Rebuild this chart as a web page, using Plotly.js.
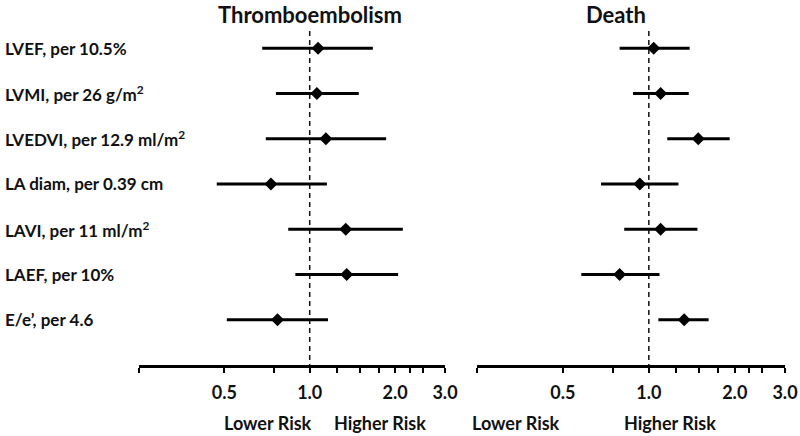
<!DOCTYPE html>
<html>
<head>
<meta charset="utf-8">
<script src="https://cdn.plot.ly/plotly-3.0.1.min.js"></script>
<style>html,body{margin:0;padding:0;background:#fff;}#chart{width:800px;height:436px;}</style>
</head>
<body>
<div id="chart"></div>
<script>
const categories = ['LVEF, per 10.5%', 'LVMI, per 26 g/m<sup>2</sup>', 'LVEDVI, per 12.9 ml/m<sup>2</sup>', 'LA diam, per 0.39 cm', 'LAVI, per 11 ml/m<sup>2</sup>', 'LAEF, per 10%', 'E/e\u2019, per 4.6'];
const panelTitles = ['Thromboembolism', 'Death'];
const thromboHR = [1.07, 1.06, 1.14, 0.73, 1.34, 1.35, 0.77];
const thromboLo = [0.68, 0.76, 0.70, 0.47, 0.84, 0.89, 0.51];
const thromboHi = [1.67, 1.49, 1.86, 1.15, 2.13, 2.05, 1.16];
const deathHR = [1.04, 1.10, 1.49, 0.93, 1.10, 0.79, 1.33];
const deathLo = [0.79, 0.88, 1.16, 0.68, 0.82, 0.58, 1.08];
const deathHi = [1.39, 1.38, 1.92, 1.27, 1.48, 1.09, 1.62];
const tickVals = [0.25, 0.5, 0.75, 1, 1.25, 1.5, 1.75, 2, 2.25, 2.5, 3];
const tickText = ['', '0.5', '', '1.0', '', '', '', '2.0', '', '', '3.0'];
const riskLabels = ['Lower Risk', 'Higher Risk'];

const FONT = 'Lato, "Open Sans", sans-serif';
const rows = categories.map((_, i) => i + 1);
const yTop = 0.62, yBot = 8;

function panel(hr, lo, hi, xa) {
  return [
    {x: [1, 1], y: [yTop, yBot], xaxis: xa, yaxis: 'y', mode: 'lines',
     line: {color: '#111', width: 1.5, dash: '5px,4px'}, hoverinfo: 'skip'},
    {x: hr, y: rows, xaxis: xa, yaxis: 'y', mode: 'markers', type: 'scatter',
     marker: {symbol: 'diamond', size: 10, color: '#000'},
     error_x: {type: 'data', symmetric: false,
       array: hi.map((h, i) => h - hr[i]), arrayminus: lo.map((l, i) => hr[i] - l),
       width: 0, thickness: 3, color: '#000'}}
  ];
}

const data = [...panel(thromboHR, thromboLo, thromboHi, 'x'), ...panel(deathHR, deathLo, deathHi, 'x2')];

function xax(domain) {
  return {
    domain: domain, type: 'log', range: [Math.log10(0.25), Math.log10(3)],
    showline: true, linecolor: '#000', linewidth: 2.5, mirror: false,
    showgrid: false, zeroline: false, anchor: 'y',
    ticks: 'outside', ticklen: 5, tickwidth: 2, tickcolor: '#000',
    tickmode: 'array', tickvals: tickVals, ticktext: tickText,
    ticklabelstandoff: 5,
    tickfont: {family: FONT, size: 18, color: '#111', weight: 700},
    fixedrange: true
  };
}

const annotations = [];
categories.forEach((c, i) => {
  annotations.push({text: c, xref: 'paper', yref: 'y', x: 0.004, y: rows[i],
    xanchor: 'left', yanchor: 'middle', showarrow: false,
    font: {family: FONT, size: 17, color: '#111', weight: 700}});
});
const titleX = [310 / 800, 648 / 800];
panelTitles.forEach((t, i) => {
  annotations.push({text: t, xref: 'paper', yref: 'paper', x: titleX[i], y: 1, yanchor: 'middle',
    yshift: 17, showarrow: false, font: {family: FONT, size: 22, color: '#111', weight: 700}});
});
const riskX = [[222 / 800, 380 / 800], [562 / 800, 718 / 800]];
riskX.forEach(pair => {
  pair.forEach((px, j) => {
    annotations.push({text: riskLabels[j], xref: 'paper', yref: 'paper', x: px, y: 0,
      yshift: -58, yanchor: 'middle', showarrow: false,
      font: {family: FONT, size: 18, color: '#111', weight: 700}});
  });
});

const layout = {
  width: 800, height: 436,
  margin: {l: 0, r: 0, t: 31, b: 71},
  paper_bgcolor: '#fff', plot_bgcolor: '#fff',
  showlegend: false, hovermode: false,
  xaxis: xax([139 / 800, 445 / 800]),
  xaxis2: xax([477 / 800, 785 / 800]),
  yaxis: {range: [yBot, yTop], visible: false, fixedrange: true},
  annotations: annotations
};

Plotly.newPlot('chart', data, layout, {staticPlot: true, displayModeBar: false});
</script>
</body>
</html>
